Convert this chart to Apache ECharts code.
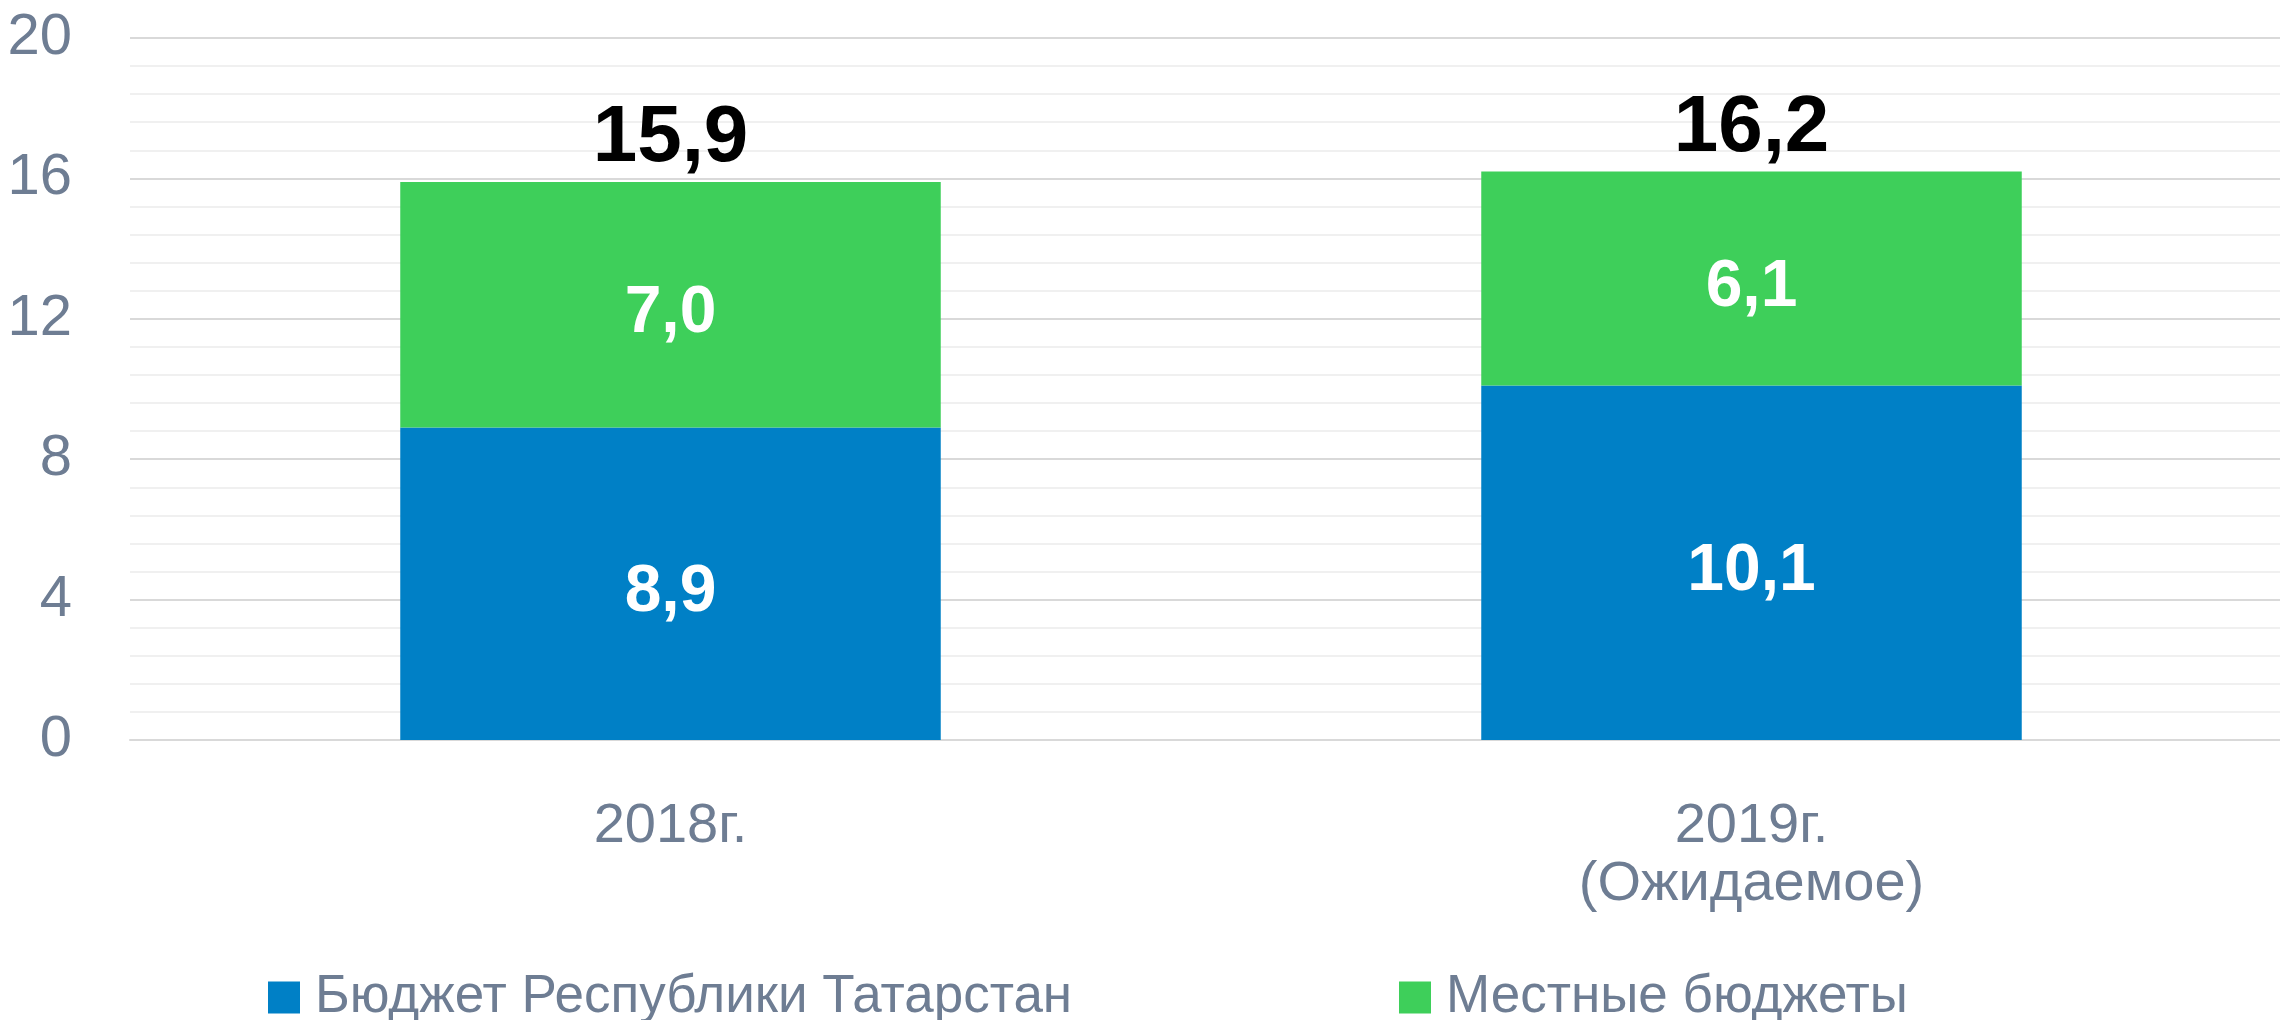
<!DOCTYPE html>
<html>
<head>
<meta charset="utf-8">
<script src="https://cdn.jsdelivr.net/npm/echarts@6/dist/echarts.min.js"></script>
<style>
  html, body { margin: 0; padding: 0; background: #fff; }
  #main { width: 2280px; height: 1020px; }
</style>
</head>
<body>
<div id="main"></div>
<script>
  var categories = ['2018г.', '2019г.\n(Ожидаемое)'];
  var republicBudget = [8.9, 10.1];
  var localBudgets = [7.0, 6.1];
  var seriesNames = ['Бюджет Республики Татарстан', 'Местные бюджеты'];
  var yTicks = [0, 4, 8, 12, 16, 20];

  // totals above the bars
  var totals = republicBudget.map(function (v, i) {
    return +(v + localBudgets[i]).toFixed(1);
  });

  var font = '"Liberation Sans", Arial, sans-serif';
  var gray = '#6E7D93';

  function comma(p) {
    return Number(p.value).toFixed(1).replace('.', ',');
  }

  var innerLabel = {
    show: true, position: 'inside', offset: [0, 9], formatter: comma,
    color: '#fff', fontWeight: 'bold', fontSize: 66, fontFamily: font
  };

  var chart = echarts.init(document.getElementById('main'));
  chart.setOption({
    animation: false,
    backgroundColor: '#fff',
    textStyle: { fontFamily: font },
    grid: { left: 130, width: 2162, top: 38, bottom: 280, outerBoundsMode: 'none' },
    legend: [{
      left: 263, top: 966,
      itemWidth: 32, itemHeight: 32, icon: 'rect',
      data: [seriesNames[0]],
      textStyle: { color: gray, fontSize: 53, fontFamily: font, padding: [0, 0, 0, 10] }
    }, {
      left: 1394, top: 966,
      itemWidth: 32, itemHeight: 32, icon: 'rect',
      data: [seriesNames[1]],
      textStyle: { color: gray, fontSize: 53, fontFamily: font, padding: [0, 0, 0, 10] }
    }],
    xAxis: {
      type: 'category',
      data: categories,
      axisLine: { show: true, lineStyle: { color: '#d9d9d9', width: 2 } },
      axisTick: { show: false },
      axisLabel: {
        color: gray, fontSize: 56, fontFamily: font,
        margin: 58, lineHeight: 58
      }
    },
    yAxis: {
      type: 'value',
      min: yTicks[0],
      max: yTicks[yTicks.length - 1],
      interval: 4,
      axisLine: { show: false },
      axisTick: { show: false },
      axisLabel: { color: gray, fontSize: 58, fontFamily: font, margin: 58 },
      splitLine: { lineStyle: { color: '#d9d9d9', width: 2 } },
      minorTick: { show: false, splitNumber: 5 },
      minorSplitLine: { show: true, lineStyle: { color: '#f0f0f0', width: 2 } }
    },
    series: [{
      name: seriesNames[0],
      type: 'bar',
      stack: 'total',
      barWidth: '50%',
      data: republicBudget,
      itemStyle: { color: '#0080C6' },
      label: innerLabel
    }, {
      name: seriesNames[1],
      type: 'bar',
      stack: 'total',
      data: localBudgets,
      itemStyle: { color: '#3ECF5A' },
      label: innerLabel
    }, {
      name: 'total',
      type: 'scatter',
      data: totals,
      symbolSize: 1,
      itemStyle: { color: 'rgba(0,0,0,0)', opacity: 1 },
      silent: true,
      label: {
        show: true, position: 'top', distance: 2, formatter: comma,
        color: '#000', fontWeight: 'bold', fontSize: 80, fontFamily: font
      }
    }]
  });
</script>
</body>
</html>
